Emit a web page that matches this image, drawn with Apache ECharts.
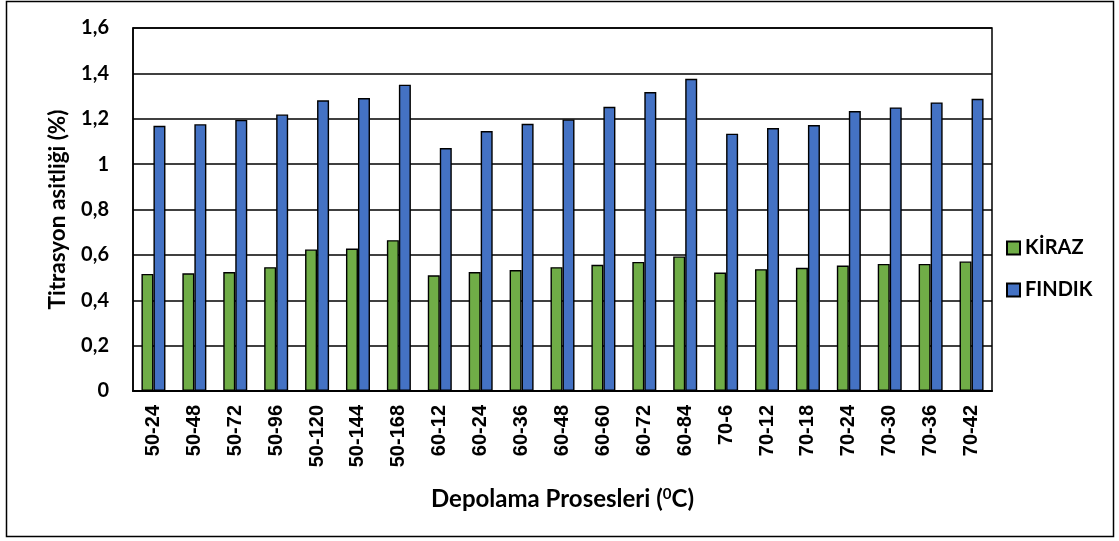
<!DOCTYPE html>
<html>
<head>
<meta charset="utf-8">
<script src="https://cdn.jsdelivr.net/npm/echarts@6/dist/echarts.min.js"></script>
<style>
  html, body { margin: 0; padding: 0; background: #fff; }
  #chart { width: 1119px; height: 541px; }
</style>
</head>
<body>
<div id="chart"></div>
<script>
// storage process (temperature-hours)
const categories = [
  "50-24", "50-48", "50-72", "50-96", "50-120", "50-144", "50-168",
  "60-12", "60-24", "60-36", "60-48", "60-60", "60-72", "60-84",
  "70-6", "70-12", "70-18", "70-24", "70-30", "70-36", "70-42"
];
const kiraz = [
  0.516, 0.519, 0.524, 0.546, 0.624, 0.628, 0.665,
  0.510, 0.524, 0.533, 0.546, 0.556, 0.569, 0.593,
  0.522, 0.537, 0.543, 0.553, 0.560, 0.560, 0.571
];
const findik = [
  1.169, 1.176, 1.195, 1.219, 1.281, 1.291, 1.350,
  1.071, 1.146, 1.178, 1.197, 1.253, 1.318, 1.376,
  1.134, 1.159, 1.172, 1.234, 1.250, 1.272, 1.288
];

const chart = echarts.init(document.getElementById("chart"));

const calibri = "Lato, 'Open Sans', sans-serif";

chart.setOption({
  animation: false,
  backgroundColor: "#fff",
  graphic: [{
    type: "rect",
    shape: { x: 6.5, y: 1.5, width: 1107, height: 535 },
    style: { fill: "none", stroke: "#000", lineWidth: 1.5 },
    silent: true
  }],
  grid: { left: 133, top: 28, right: 127, bottom: 150, show: true, borderColor: "#000", borderWidth: 1.5 },
  legend: {
    orient: "vertical",
    left: 1001,
    top: 233,
    itemWidth: 13,
    itemHeight: 13,
    itemGap: 22,
    icon: "rect",
    textStyle: { fontFamily: calibri, fontWeight: "bold", fontSize: 20, color: "#000" },
    data: ["KİRAZ", "FINDIK"]
  },
  xAxis: {
    type: "category",
    data: categories,
    name: "Depolama Prosesleri ({sup|0}C)",
    nameLocation: "middle",
    nameGap: 96,
    nameTextStyle: {
      fontFamily: calibri, fontWeight: "bold", fontSize: 24, color: "#000",
      rich: { sup: { fontFamily: calibri, fontWeight: "bold", fontSize: 15, verticalAlign: "top", padding: [0, 0, 10, 0] } }
    },
    axisLine: { lineStyle: { color: "#000", width: 2 } },
    axisTick: { show: false },
    axisLabel: {
      rotate: 90,
      margin: 14,
      fontFamily: "'Liberation Sans', Arial, sans-serif",
      fontWeight: "bold",
      fontSize: 20,
      color: "#000",
      interval: 0
    }
  },
  yAxis: {
    type: "value",
    min: 0,
    max: 1.6,
    interval: 0.2,
    name: "Titrasyon asitliği (%)",
    nameLocation: "middle",
    nameGap: 64,
    nameTextStyle: { fontFamily: calibri, fontWeight: "bold", fontSize: 22.5, color: "#000" },
    axisLine: { show: true, lineStyle: { color: "#000", width: 1.5 } },
    axisTick: { show: true, length: 0 },
    splitLine: { lineStyle: { color: "#000", width: 1.5 } },
    axisLabel: {
      margin: 24,
      fontFamily: calibri,
      fontWeight: "bold",
      fontSize: 20,
      color: "#000",
      formatter: v => (Math.round(v * 10) / 10).toString().replace(".", ",")
    }
  },
  series: [
    {
      name: "KİRAZ",
      type: "bar",
      data: kiraz,
      barWidth: 12,
      barGap: "0%",
      itemStyle: { color: "#70AD47", borderColor: "#000", borderWidth: 1.4 }
    },
    {
      name: "FINDIK",
      type: "bar",
      data: findik,
      barWidth: 12,
      barGap: "0%",
      itemStyle: { color: "#4472C4", borderColor: "#000", borderWidth: 1.4 }
    }
  ]
});
</script>
</body>
</html>
